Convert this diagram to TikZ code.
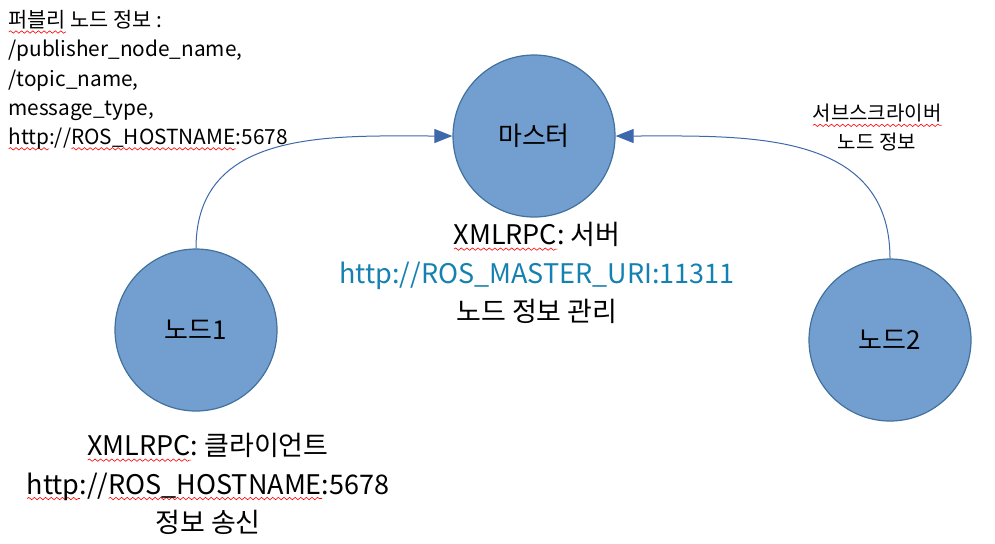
\documentclass[tikz,border=0pt]{standalone}
\usepackage{fontspec}
\setmainfont{Noto Sans CJK KR}
\usetikzlibrary{arrows.meta,decorations.pathmorphing}

\definecolor{nodefill}{RGB}{114,159,207}
\definecolor{nodeline}{RGB}{65,113,156}
\definecolor{linkblue}{RGB}{61,104,171}
\definecolor{urlblue}{RGB}{21,129,176}

\tikzset{
	rosnode/.style={circle, fill=nodefill, draw=nodeline, line width=0.6pt, minimum size=81pt, inner sep=0pt, font=\fontsize{13}{15}\selectfont},
	conn/.style={draw=linkblue, line width=0.5pt, -{Triangle[length=9pt,width=7pt]}},
	smalltxt/.style={font=\fontsize{10.4}{14.6}\selectfont, align=left, inner sep=0pt},
	bigtxt/.style={font=\fontsize{13.5}{19.2}\selectfont, align=center, inner sep=0pt},
	spellwave/.style={draw=red, line width=0.3pt, decorate, decoration={snake, amplitude=0.6pt, segment length=2.8pt}}
}

% red wavy mark under a word
\newlength\spellwd
\newcommand\spellerr[1]{\settowidth\spellwd{#1}\rlap{\smash{\tikz[baseline=0pt]\draw[spellwave] (0pt,-2.2pt) -- (\spellwd,-2.2pt);}}#1}

\begin{document}
\begin{tikzpicture}[x=0.5pt,y=-0.5pt]
	\useasboundingbox (0,0) rectangle (995,543);
	
	\node[rosnode] (master) at (534,136) {마스터};
	\node[rosnode] (node1) at (196,330) {노드1};
	\node[rosnode] (node2) at (890,340) {노드2};
	
	\draw[conn] (node1.north) to[out=90,in=180,looseness=1.1] (master.west);
	\draw[conn] (node2.north) to[out=90,in=0,looseness=1.1] (master.east);
	
	\node[smalltxt, anchor=north west] (pubinfo) at (8,10) {\spellerr{퍼블리} 노드 정보 :\\/publisher\_node\_name,\\/topic\_name,\\message\_type,\\\spellerr{http}://\spellerr{ROS\_HOSTNAME}:5678};
	\node[smalltxt, font=\fontsize{10}{14.2}\selectfont, align=center, anchor=north] (subinfo) at (877,104) {\spellerr{서브스크라이버}\\노드 정보};
	
	\node[bigtxt, anchor=north] (masterinfo) at (537,222) {\spellerr{XMLRPC}: 서버\\\textcolor{urlblue}{http://ROS\_MASTER\_URI:11311}\\노드 정보 관리};
	\node[bigtxt, anchor=north] (node1info) at (208,433) {\spellerr{XMLRPC}: 클라이언트\\\spellerr{http}://\spellerr{ROS\_HOSTNAME}:5678\\정보 송신};
\end{tikzpicture}
\end{document}
